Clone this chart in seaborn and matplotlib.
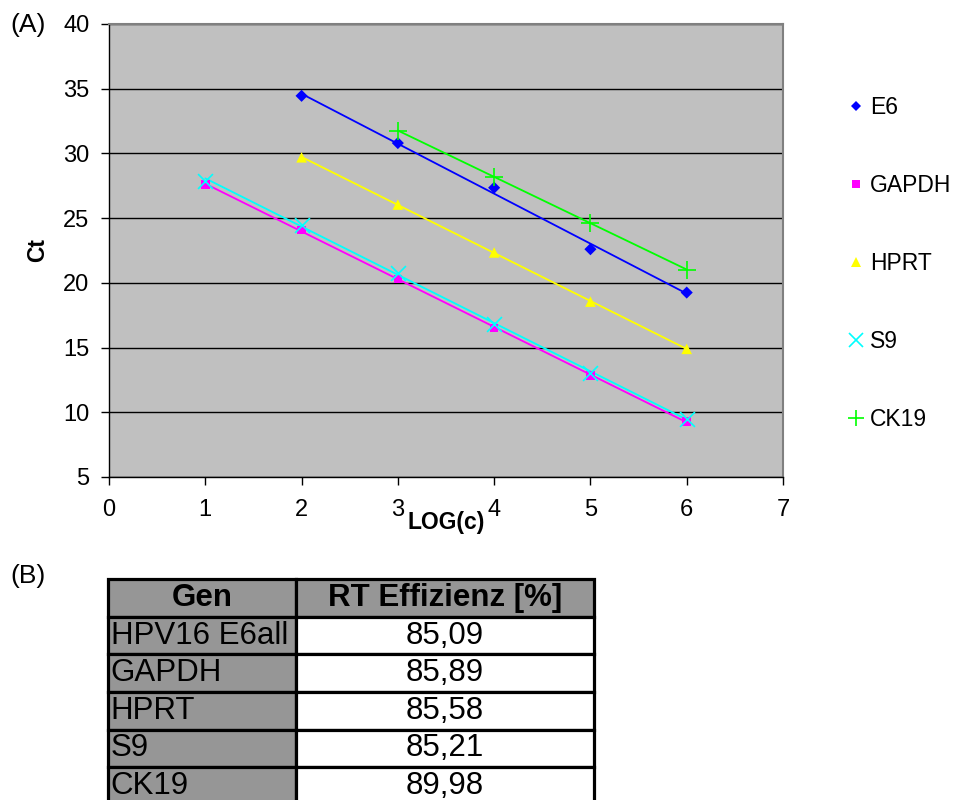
import numpy as np
import pandas as pd
import matplotlib
matplotlib.use("Agg")
import matplotlib.pyplot as plt
from matplotlib.lines import Line2D
import seaborn as sns

# ---------------- data ----------------
series_names = ["E6", "GAPDH", "HPRT", "S9", "CK19"]
e6_x = [2, 3, 4, 5, 6]
e6_ct = [34.45, 30.8, 27.35, 22.6, 19.25]
gapdh_x = [1, 2, 3, 4, 5, 6]
gapdh_ct = [27.6, 24.1, 20.3, 16.5, 12.85, 9.3]
hprt_x = [2, 3, 4, 5, 6]
hprt_ct = [29.7, 26.05, 22.35, 18.55, 14.9]
s9_x = [1, 2, 3, 4, 5, 6]
s9_ct = [27.9, 24.5, 20.8, 16.85, 13.0, 9.5]
ck19_x = [3, 4, 5, 6]
ck19_ct = [31.75, 28.2, 24.65, 21.0]

x_ticks = [0, 1, 2, 3, 4, 5, 6, 7]
y_ticks = [5, 10, 15, 20, 25, 30, 35, 40]

table_header = ["Gen", "RT Effizienz [%]"]
table_genes = ["HPV16 E6all", "GAPDH", "HPRT", "S9", "CK19"]
table_eff = ["85,09", "85,89", "85,58", "85,21", "89,98"]

# ---------------- style ----------------
sns.set_style("white")
plt.rcParams["font.family"] = ["Liberation Sans", "DejaVu Sans"]
plt.rcParams["text.color"] = "black"
plt.rcParams["axes.labelcolor"] = "black"
plt.rcParams["xtick.color"] = "black"
plt.rcParams["ytick.color"] = "black"

colors = ["#0000FF", "#FF00FF", "#FFFF00", "#00FFFF", "#00FF00"]
markers = ["D", "s", "^", "x", "+"]
msizes = [38, 38, 58, 115, 175]

frames = []
for name, xs, ys in zip(series_names,
                        [e6_x, gapdh_x, hprt_x, s9_x, ck19_x],
                        [e6_ct, gapdh_ct, hprt_ct, s9_ct, ck19_ct]):
    frames.append(pd.DataFrame({"logc": xs, "ct": ys, "gene": name}))
df = pd.concat(frames, ignore_index=True)

W, H = 955, 800
fig = plt.figure(figsize=(W / 100, H / 100), dpi=100)
ax = fig.add_axes([109 / W, 1 - 477 / H, (783 - 109) / W, (477 - 24) / H])
ax.set_facecolor("#C0C0C0")

for i, name in enumerate(series_names):
    sub = df[df["gene"] == name]
    filled = markers[i] in ("D", "s", "^")
    skw = {"s": msizes[i], "alpha": 1, "zorder": 4}
    if filled:
        skw.update({"edgecolors": "none", "linewidths": 0})
    else:
        skw.update({"linewidths": 1.2})
    sns.regplot(data=sub, x="logc", y="ct", ax=ax, ci=None, truncate=True,
                marker=markers[i], color=colors[i],
                scatter_kws=skw, line_kws={"lw": 1.3, "zorder": 3})

ax.set_xlim(0, 7)
ax.set_ylim(5, 40)
ax.set_xticks(x_ticks)
ax.set_yticks(y_ticks)
ax.set_xticklabels([str(v) for v in x_ticks], fontsize=17)
ax.set_yticklabels([str(v) for v in y_ticks], fontsize=17)
ax.tick_params(axis="x", direction="out", length=6, width=1, pad=10, color="black", bottom=True)
ax.tick_params(axis="y", direction="out", length=6, width=1, pad=8, color="black", left=True)

ax.yaxis.grid(True, color="black", lw=1)
ax.xaxis.grid(False)
ax.set_axisbelow(True)
for side in ["top", "right"]:
    ax.spines[side].set_color("#808080")
    ax.spines[side].set_linewidth(1.5)
for side in ["left", "bottom"]:
    ax.spines[side].set_color("black")
    ax.spines[side].set_linewidth(1.0)
    ax.spines[side].set_visible(True)

ax.set_xlabel("LOG(c)", fontsize=16.5, fontweight="bold")
ax.xaxis.set_label_coords(0.5, -(522 - 477) / 453)
ax.xaxis.label.set_va("center")
ax.set_ylabel("Ct", fontsize=16.5, fontweight="bold")
ax.yaxis.set_label_coords((38 - 109) / 674, 0.5)
ax.yaxis.label.set_va("center")

# legend (markers only)
handles = []
for i, name in enumerate(series_names):
    filled = markers[i] in ("D", "s", "^")
    handles.append(Line2D([], [], linestyle="none", marker=markers[i],
                          markersize=np.sqrt(msizes[i]) * 0.9,
                          color=colors[i], markeredgewidth=0 if filled else 1.2))
leg = fig.legend(handles, series_names, loc="upper left",
                 bbox_to_anchor=(847 / W, 1 - 96 / H), bbox_transform=fig.transFigure,
                 frameon=False, fontsize=16.5, handlelength=0.8, handletextpad=0.2,
                 labelspacing=2.4, borderpad=0, borderaxespad=0)

fig.text(10 / W, 1 - 25 / H, "(A)", fontsize=19, va="center", ha="left")
fig.text(10 / W, 1 - 576 / H, "(B)", fontsize=19, va="center", ha="left")

# ---------------- table ----------------
tab_top, tab_bottom = 579, 805
tax = fig.add_axes([108 / W, 1 - tab_bottom / H, (594 - 108) / W, (tab_bottom - tab_top) / H])
tax.axis("off")
cell_text = [[g, e] for g, e in zip(table_genes, table_eff)]
tbl = tax.table(cellText=cell_text, colLabels=table_header, bbox=[0, 0, 1, 1],
                cellLoc="center", colWidths=[188, 298])
tbl.auto_set_font_size(False)
tbl.set_fontsize(22.5)
for (r, c), cell in tbl.get_celld().items():
    cell.set_edgecolor("black")
    cell.set_linewidth(2.3)
    cell.get_text().set_color("black")
    if r == 0:
        cell.set_facecolor("#969696")
        cell.set_text_props(fontweight="bold")
    elif c == 0:
        cell.set_facecolor("#969696")
        cell.set_text_props(ha="left")
        cell.PAD = 0.015
    else:
        cell.set_facecolor("white")

fig.savefig("out.png", dpi=100)
